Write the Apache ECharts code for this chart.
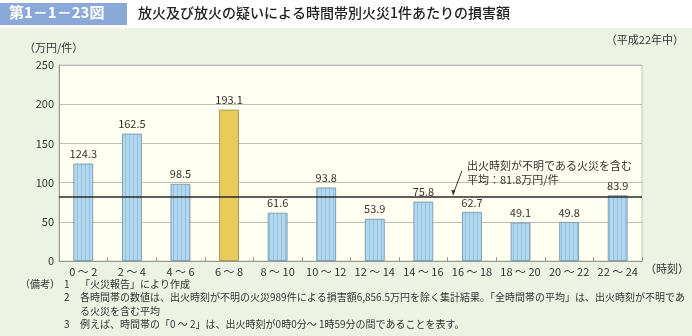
<!DOCTYPE html>
<html><head><meta charset="utf-8">
<script src="https://cdn.jsdelivr.net/npm/echarts@6/dist/echarts.min.js"></script>
<style>html,body{margin:0;padding:0;background:#fff}#c{width:692px;height:336px}</style>
</head><body><div id="c"></div>
<script>
const categories = ['0 ～ 2','2 ～ 4','4 ～ 6','6 ～ 8','8 ～ 10','10 ～ 12','12 ～ 14','14 ～ 16','16 ～ 18','18 ～ 20','20 ～ 22','22 ～ 24'];
const values = [124.3,162.5,98.5,193.1,61.6,93.8,53.9,75.8,62.7,49.1,49.8,83.9];
const highlightIndex = 3;
const average = 81.8;
const notes = [
 ['1','「火災報告」により作成'],
 ['2','各時間帯の数値は、出火時刻が不明の火災989件による損害額6,856.5万円を除く集計結果。「全時間帯の平均」は、出火時刻が不明であ'],
 ['','る火災を含む平均'],
 ['3','例えば、時間帯の「0 ～ 2」は、出火時刻が0時0分～ 1時59分の間であることを表す。']
];

const FONT = '"Noto Sans CJK JP", "Noto Sans", sans-serif';

function stripe(base, line){
  const c = document.createElement('canvas'); c.width = 4; c.height = 4;
  const g = c.getContext('2d');
  g.fillStyle = base; g.fillRect(0,0,4,4);
  g.fillStyle = line; g.fillRect(1,0,1,4);
  return c;
}
const blueFill = {image: stripe('#b3d8ee','#8fc0e0'), repeat:'repeat'};

const chart = echarts.init(document.getElementById('c'), null, {renderer:'canvas'});
chart.setOption({
  backgroundColor:'#edf3e3',
  animation:false,
  textStyle:{fontFamily:FONT},
  grid:{left:59, right:50, top:65, bottom:75, show:true, backgroundColor:'#fffff2', borderColor:'#c4c4bc', borderWidth:1},
  xAxis:{type:'category', data:categories,
    axisLine:{lineStyle:{color:'#9a9a94'}},
    axisTick:{show:true, inside:true, length:4, lineStyle:{color:'#9a9a94'}},
    axisLabel:{color:'#333', fontSize:11, fontFamily:FONT, margin:5, interval:0, hideOverlap:false}},
  yAxis:{type:'value', min:0, max:250, interval:50,
    axisLine:{show:true, lineStyle:{color:'#9a9a94'}},
    axisTick:{show:false},
    axisLabel:{color:'#333', fontSize:11, fontFamily:FONT, margin:5},
    splitLine:{lineStyle:{color:'#bdbdb5', width:1}}},
  series:[{
    type:'bar', barWidth:'41%',
    data: values.map((v,i)=>({value:v, itemStyle: i===highlightIndex ? {color:'#e8cb5a', borderColor:'#a89a5a', borderWidth:1} : {color:blueFill, borderColor:'#7f9fb0', borderWidth:1}})),
    label:{show:true, position:'top', distance:4, color:'#333', fontSize:11, fontFamily:FONT},
    markLine:{silent:true, symbol:'none', label:{show:false},
      lineStyle:{color:'#2a2a2a', width:1.5, type:'solid'},
      data:[{yAxis:average}]}
  }]
});

const yAvg = chart.convertToPixel({yAxisIndex:0}, average);
const xAnchor = chart.convertToPixel({xAxisIndex:0}, categories[8]) - 19;
const F11 = '11px '+FONT, F10 = '10px '+FONT;
const els = [
  {type:'rect', shape:{x:0,y:0,width:692,height:28}, style:{fill:'#ffffff'}, z:-1},
  {type:'rect', shape:{x:0,y:3,width:127,height:22}, style:{fill:'#8aa9d9'}},
  {type:'text', left:9, top:5, style:{text:'第1－1－23図', fill:'#fff', font:'bold 15px '+FONT}},
  {type:'text', left:138, top:6, style:{text:'放火及び放火の疑いによる時間帯別火災1件あたりの損害額', fill:'#222', font:'500 14px '+FONT}},
  {type:'text', left:24, top:42, style:{text:'（万円/件）', fill:'#333', font:F11}},
  {type:'text', right:8, top:34, style:{text:'（平成22年中）', fill:'#333', font:F11}},
  {type:'text', left:645, top:263, style:{text:'（時刻）', fill:'#333', font:F11}},
  {type:'text', left:xAnchor+14, top:yAvg-38, style:{text:'出火時刻が不明である火災を含む\n平均：81.8万円/件', fill:'#333', font:F11, lineHeight:14}},
  {type:'line', shape:{x1:xAnchor+9, y1:yAvg-26, x2:xAnchor+1, y2:yAvg-5}, style:{stroke:'#333', lineWidth:1}},
  {type:'polygon', shape:{points:[[xAnchor,yAvg-1],[xAnchor-1.5,yAvg-7],[xAnchor+2.5,yAvg-6]]}, style:{fill:'#333'}},
  {type:'text', left:20, top:279, style:{text:'（備考）', fill:'#333', font:F10}}
];
notes.forEach((n,i)=>{
  const top = 279 + i*13.5;
  if(n[0]) els.push({type:'text', left:64, top:top, style:{text:n[0], fill:'#333', font:F10}});
  els.push({type:'text', left:80, top:top, style:{text:n[1], fill:'#333', font:F10}});
});
chart.setOption({graphic:{elements:els}});
</script></body></html>
